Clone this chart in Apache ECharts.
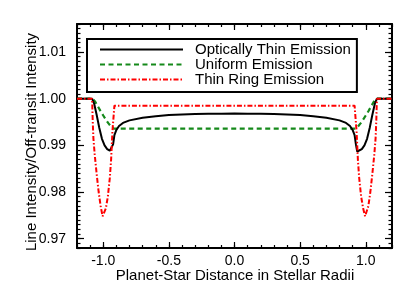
<!DOCTYPE html>
<html>
<head>
<meta charset="utf-8">
<script src="https://cdn.jsdelivr.net/npm/echarts@6/dist/echarts.min.js"></script>
<style>html,body{margin:0;padding:0;background:#fff;}#c{width:415px;height:297px;}</style>
</head>
<body>
<div id="c"></div>
<script>
// ---- data ----
const xMajorTicks = [-1.0, -0.5, 0.0, 0.5, 1.0];
const yMajorTicks = [0.97, 0.98, 0.99, 1.00, 1.01];

const seriesNames = ['Optically Thin Emission', 'Uniform Emission', 'Thin Ring Emission'];
const xTitle = 'Planet-Star Distance in Stellar Radii';
const yTitle = 'Line Intensity/Off-transit Intensity';

const thinX = [-1.2, -1.085, -1.07, -1.05, -1.03, -1.01, -0.99, -0.97, -0.95, -0.935, -0.925, -0.915, -0.90, -0.88, -0.85, -0.80, -0.70, -0.60, -0.50, -0.40, -0.30, -0.20, -0.10, 0.0,
               0.10, 0.20, 0.30, 0.40, 0.50, 0.60, 0.70, 0.80, 0.85, 0.88, 0.90, 0.915, 0.925, 0.935, 0.95, 0.97, 0.99, 1.01, 1.03, 1.05, 1.07, 1.085, 1.2];
const thinY = [1.0, 1.0, 0.9990, 0.9965, 0.9937, 0.9914, 0.9900, 0.9892, 0.98885, 0.98868, 0.9902, 0.9922, 0.9933, 0.99415, 0.9948, 0.99535, 0.9959, 0.99625, 0.99648, 0.99662, 0.9967, 0.99675, 0.99678, 0.9968,
               0.99678, 0.99675, 0.9967, 0.99662, 0.99648, 0.99625, 0.9959, 0.99535, 0.9948, 0.99415, 0.9933, 0.9922, 0.9902, 0.98868, 0.98885, 0.9892, 0.9900, 0.9914, 0.9937, 0.9965, 0.9990, 1.0, 1.0];

const uniX = [-1.2, -1.08, -1.06, -1.04, -1.02, -1.00, -0.98, -0.96, -0.94, -0.92, 0.92, 0.94, 0.96, 0.98, 1.00, 1.02, 1.04, 1.06, 1.08, 1.2];
const uniY = [1.0, 1.0, 0.9993, 0.9983, 0.9973, 0.9964, 0.9955, 0.9947, 0.9940, 0.9936, 0.9936, 0.9940, 0.9947, 0.9955, 0.9964, 0.9973, 0.9983, 0.9993, 1.0, 1.0];

const ringX = [-1.2, -1.085, -1.08, -1.075, -1.065, -1.05, -1.035, -1.02, -1.005, -1.0, -0.995, -0.98, -0.965, -0.95, -0.94, -0.93, -0.915,
               0.915, 0.93, 0.94, 0.95, 0.965, 0.98, 0.995, 1.0, 1.005, 1.02, 1.035, 1.05, 1.065, 1.075, 1.08, 1.085, 1.2];
const ringY = [1.0, 1.0, 0.9950, 0.9915, 0.9880, 0.9838, 0.9800, 0.9770, 0.9748, 0.9745, 0.9748, 0.9765, 0.9790, 0.9830, 0.9870, 0.9930, 0.9985,
               0.9985, 0.9930, 0.9870, 0.9830, 0.9790, 0.9765, 0.9748, 0.9745, 0.9748, 0.9770, 0.9800, 0.9838, 0.9880, 0.9915, 0.9950, 1.0, 1.0];

const xRange = [-1.2, 1.2];
const yRange = [0.968, 1.016];

// ---- chart ----
const FONT = 'Liberation Sans';
const chart = echarts.init(document.getElementById('c'), null, {renderer: 'canvas'});
const pairs = (xs, ys) => xs.map((x, i) => [x, ys[i]]);

function xAx(pos, major, show) {
  const a = {
    type: 'value', position: pos, min: xRange[0], max: xRange[1], gridIndex: 0,
    splitLine: {show: false},
    axisLine: {show: major, onZero: false, lineStyle: {color: '#000', width: 2}},
    axisTick: {show: true, inside: true, length: major ? 6 : 3, lineStyle: {color: '#000', width: 1.2}},
    axisLabel: {show: false}
  };
  if (major) {
    a.axisTick.customValues = xMajorTicks;
    if (show) {
      a.axisLabel = {show: true, customValues: xMajorTicks, margin: 6, color: '#000', fontSize: 14, fontFamily: FONT,
                     formatter: v => v.toFixed(1)};
    } else {
      a.axisLabel = {show: false, customValues: xMajorTicks};
    }
  } else {
    a.interval = 0.1;
  }
  return a;
}
function yAx(pos, major, show) {
  const a = {
    type: 'value', position: pos, min: yRange[0], max: yRange[1], gridIndex: 0,
    splitLine: {show: false},
    axisLine: {show: major, onZero: false, lineStyle: {color: '#000', width: 2}},
    axisTick: {show: true, inside: true, length: major ? 7 : 3.5, lineStyle: {color: '#000', width: 1.2}},
    axisLabel: {show: false}
  };
  if (major) {
    a.axisTick.customValues = yMajorTicks;
    if (show) {
      a.axisLabel = {show: true, customValues: yMajorTicks, margin: 11, color: '#000', fontSize: 14, fontFamily: FONT,
                     formatter: v => v.toFixed(2)};
    } else {
      a.axisLabel = {show: false, customValues: yMajorTicks};
    }
  } else {
    a.interval = 0.001;
  }
  return a;
}

const option = {
  animation: false,
  backgroundColor: '#fff',
  grid: {left: 77, right: 23, top: 24, bottom: 49, containLabel: false},
  xAxis: [xAx('bottom', true, true), xAx('bottom', false), xAx('top', true, false), xAx('top', false)],
  yAxis: [yAx('left', true, true), yAx('left', false), yAx('right', true, false), yAx('right', false)],
  graphic: [{
    type: 'text', x: 32, y: 142, rotation: Math.PI / 2,
    style: {text: yTitle, fill: '#000', font: '15px "Liberation Sans"', align: 'center', verticalAlign: 'middle'}
  }, {
    type: 'text', x: 235, y: 276,
    style: {text: xTitle, fill: '#000', font: '15px "Liberation Sans"', align: 'center', verticalAlign: 'middle'}
  }],
  legend: {
    show: true, orient: 'vertical', left: 87, top: 39,
    backgroundColor: '#fff',
    borderColor: '#000', borderWidth: 2, borderRadius: 0,
    padding: [3, 6, 5, 12],
    itemWidth: 83, itemHeight: 14, itemGap: 0,
    selectedMode: false,
    itemStyle: {opacity: 0},
    textStyle: {color: '#000', fontSize: 15, fontFamily: FONT, padding: [0, 0, 0, 7]},
    data: seriesNames
  },
  series: [
    {name: seriesNames[0], type: 'line', xAxisIndex: 0, yAxisIndex: 0, symbol: 'none', z: 3,
     lineStyle: {color: '#000', width: 2}, itemStyle: {color: '#000'}, data: pairs(thinX, thinY)},
    {name: seriesNames[1], type: 'line', xAxisIndex: 0, yAxisIndex: 0, symbol: 'none', z: 2,
     lineStyle: {color: '#15891a', width: 2.2, type: [5, 3.5]}, itemStyle: {color: '#15891a'}, data: pairs(uniX, uniY)},
    {name: seriesNames[2], type: 'line', xAxisIndex: 0, yAxisIndex: 0, symbol: 'none', z: 4,
     lineStyle: {color: '#ff0000', width: 2, type: [5, 2, 1.5, 2]}, itemStyle: {color: '#ff0000'}, data: pairs(ringX, ringY)}
  ]
};
chart.setOption(option);
</script>
</body>
</html>
